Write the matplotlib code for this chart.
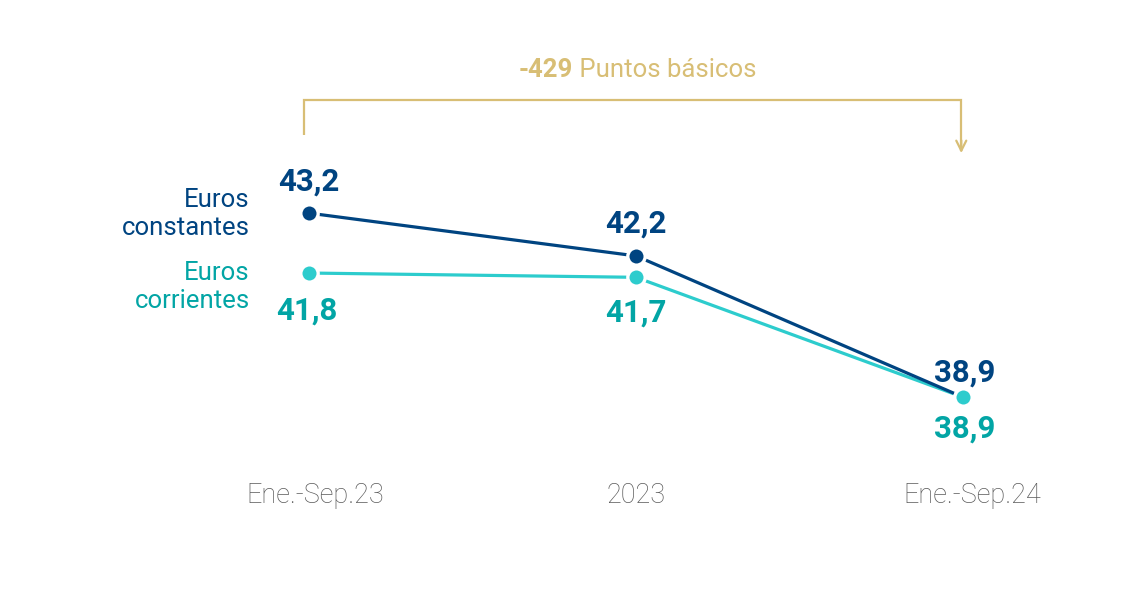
import matplotlib
matplotlib.use("Agg")
import matplotlib.pyplot as plt

plt.rcParams['font.family'] = ['Roboto', 'DejaVu Sans']

periodos = ["Ene.-Sep.23", "2023", "Ene.-Sep.24"]
constantes = [43.2, 42.2, 38.9]
corrientes = [41.8, 41.7, 38.9]
etiqueta_const = ["43,2", "42,2", "38,9"]
etiqueta_corr = ["41,8", "41,7", "38,9"]
variacion = "-429"

AZUL = "#004481"
TURQ = "#2DCCCD"
TURQ_TXT = "#02A5A5"
ORO = "#D8BE75"
GRIS = "#5A5A5A"

fig = plt.figure(figsize=(11.46, 5.94), dpi=100)
ax = fig.add_axes([0, 0, 1, 1])
ax.set_xlim(-0.945, 2.56)
ax.set_ylim(34.30, 48.18)
ax.axis('off')

x = list(range(len(periodos)))

ax.plot(x, corrientes, color=TURQ, lw=2.3, zorder=2)
ax.plot(x, constantes, color=AZUL, lw=2.3, zorder=3)
ax.plot(x, constantes, 'o', color=AZUL, ms=12.5, mec='white', mew=2.4, zorder=4)
ax.plot(x, corrientes, 'o', color=TURQ, ms=12.5, mec='white', mew=2.4, zorder=5)

# value labels (pixel offsets from the point)
off_const = [(0, 32), (0, 32), (2, 25)]
off_corr = [(-2, -38), (0, -35), (2, -31)]
for i in x:
    ax.annotate(etiqueta_const[i], (i, constantes[i]), xytext=off_const[i],
                textcoords='offset pixels', ha='center', va='center',
                fontsize=22.5, fontweight='bold', color=AZUL)
    ax.annotate(etiqueta_corr[i], (i, corrientes[i]), xytext=off_corr[i],
                textcoords='offset pixels', ha='center', va='center',
                fontsize=22.5, fontweight='bold', color=TURQ_TXT)

# series labels
ax.annotate("Euros\nconstantes", (0, constantes[0]), xytext=(-59, -1),
            textcoords='offset pixels', ha='right', va='center',
            fontsize=18.5, color=AZUL, linespacing=1.25)
ax.annotate("Euros\ncorrientes", (0, corrientes[0]), xytext=(-59, -14),
            textcoords='offset pixels', ha='right', va='center',
            fontsize=18.5, color=TURQ_TXT, linespacing=1.25)

# category labels
dx = [0.02, 0.0, 0.03]
for i, p in enumerate(periodos):
    ax.text(i + dx[i], 36.59, p, ha='center', va='center',
            fontsize=19.5, color=GRIS, fontweight='light')

# bracket with arrow
yb = 43.2 + (213 - 100) / 42.8
y_left = 43.2 + (213 - 135) / 42.8
y_right = 43.2 + (213 - 153) / 42.8
xl, xr = -0.015, 1.995
ax.plot([xl, xl, xr, xr], [y_left, yb, yb, y_right + 0.05], color=ORO, lw=1.6,
        solid_capstyle='butt', solid_joinstyle='miter')
ax.annotate("", xy=(xr, y_right), xytext=(xr, y_right + 0.3),
            arrowprops=dict(arrowstyle='->', color=ORO, lw=1.6,
                            mutation_scale=18, shrinkA=0, shrinkB=0))

ytop = 43.2 + (213 - 70) / 42.8
t1 = ax.text(0.806, ytop, variacion, ha='right', va='center', fontsize=18.5,
             fontweight='bold', color=ORO)
ax.annotate(" Puntos básicos", xy=(1, 0.5), xycoords=t1, ha='left', va='center',
            fontsize=18.5, color=ORO)

fig.savefig("out.png", dpi=100)
